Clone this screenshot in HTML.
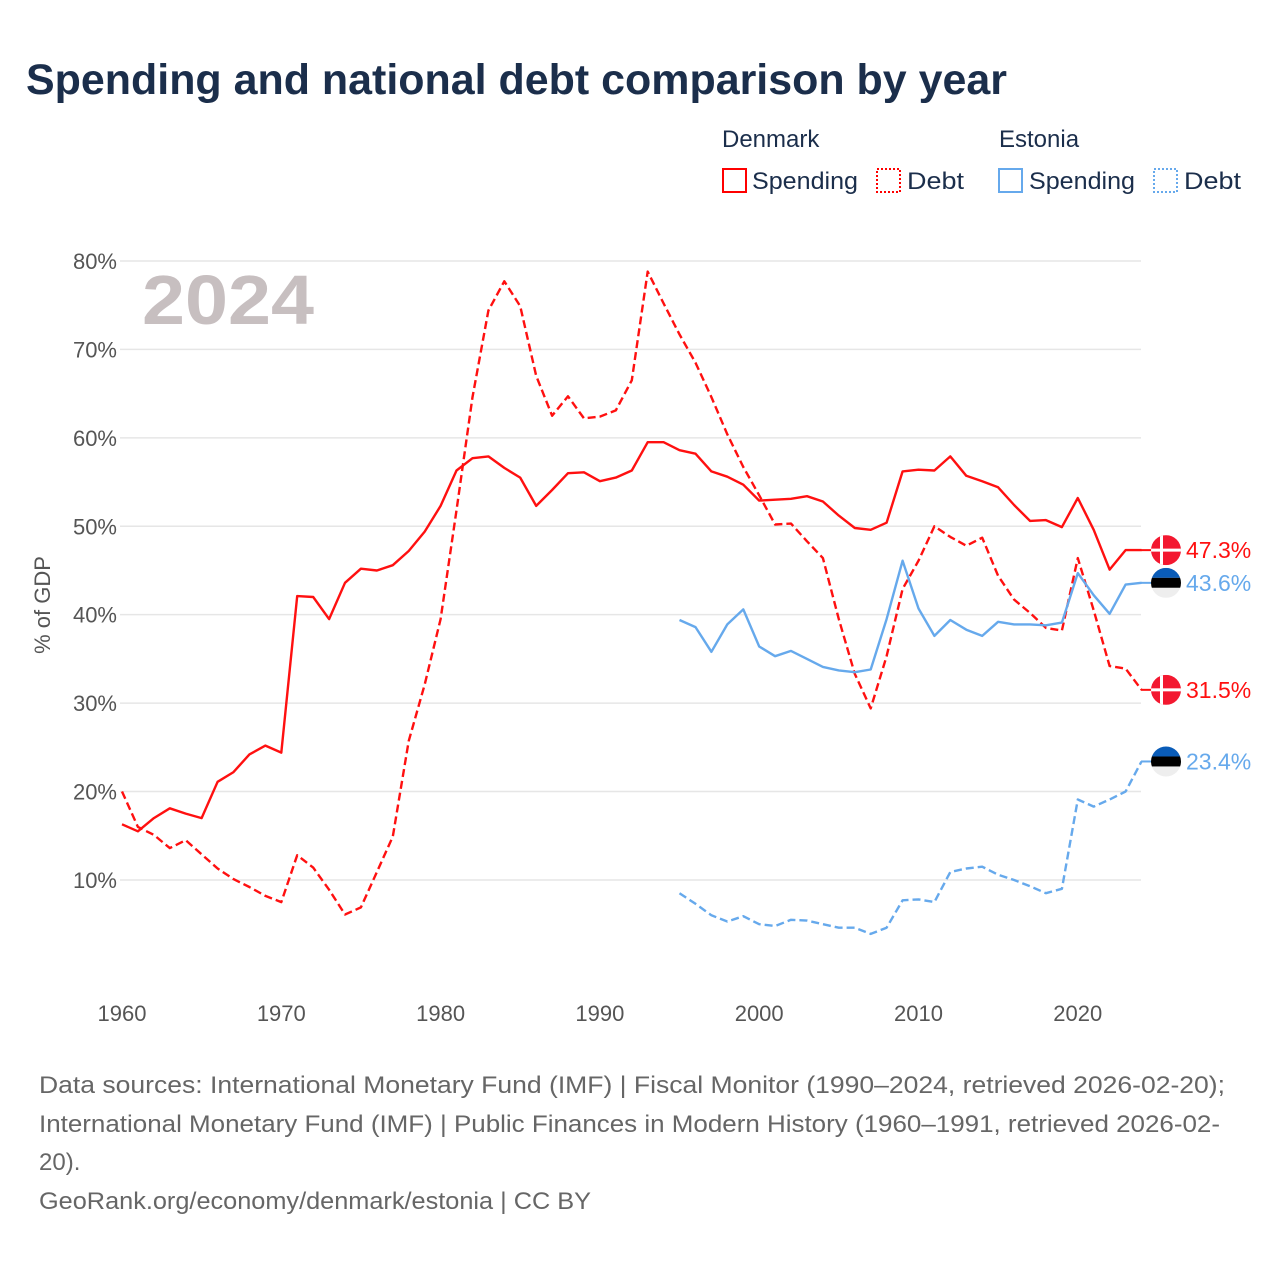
<!DOCTYPE html>
<html><head><meta charset="utf-8">
<style>
html,body{margin:0;padding:0;background:#fff;}
body{width:1280px;height:1280px;overflow:hidden;font-family:"Liberation Sans",sans-serif;}
svg text{font-family:"Liberation Sans",sans-serif;}
</style></head>
<body>
<svg id="chart" width="1280" height="1280" viewBox="0 0 1280 1280" xmlns="http://www.w3.org/2000/svg">
<text x="26" y="94" font-size="43" font-weight="bold" fill="#1b2e4b" textLength="981" lengthAdjust="spacingAndGlyphs">Spending and national debt comparison by year</text>
<g font-size="24" fill="#1b2e4b">
<text x="722" y="147">Denmark</text>
<text x="999" y="147">Estonia</text>
<g><rect x="723" y="169" width="23" height="23" fill="none" stroke="#f00" stroke-width="2"/><text x="752" y="189" textLength="106" lengthAdjust="spacingAndGlyphs">Spending</text></g>
<g><rect x="877" y="169" width="23" height="23" fill="none" stroke="#f00" stroke-width="2" stroke-dasharray="2,2"/><text x="907" y="189" textLength="57" lengthAdjust="spacingAndGlyphs">Debt</text></g>
<g><rect x="999" y="169" width="23" height="23" fill="none" stroke="#66a9ec" stroke-width="2"/><text x="1029" y="189" textLength="106" lengthAdjust="spacingAndGlyphs">Spending</text></g>
<g><rect x="1154" y="169" width="23" height="23" fill="none" stroke="#66a9ec" stroke-width="2" stroke-dasharray="2,2"/><text x="1184" y="189" textLength="57" lengthAdjust="spacingAndGlyphs">Debt</text></g>
</g>
<text x="142" y="324" font-size="70" font-weight="bold" fill="#c7bfc0" textLength="172" lengthAdjust="spacingAndGlyphs">2024</text>
<g id="grid"></g>
<g id="axes"></g>
<g id="series"></g>
<g id="ends"></g>
<text transform="translate(50,605) rotate(-90)" text-anchor="middle" font-size="22" fill="#555">% of GDP</text>
<g font-size="24" fill="#666">
<text x="39" y="1093" textLength="1186" lengthAdjust="spacingAndGlyphs">Data sources: International Monetary Fund (IMF) | Fiscal Monitor (1990–2024, retrieved 2026-02-20);</text>
<text x="39" y="1132" textLength="1181" lengthAdjust="spacingAndGlyphs">International Monetary Fund (IMF) | Public Finances in Modern History (1960–1991, retrieved 2026-02-</text>
<text x="39" y="1170">20).</text>
<text x="39" y="1209" textLength="552" lengthAdjust="spacingAndGlyphs">GeoRank.org/economy/denmark/estonia | CC BY</text>
</g>
</svg>
<script>
const yTicks = [10,20,30,40,50,60,70,80];
const xTicks = [1960,1970,1980,1990,2000,2010,2020];
const dkYears0 = 1960;
const dkSpending = [16.3,15.5,17,18.1,17.5,17,21.1,22.2,24.2,25.2,24.4,42.1,42,39.5,43.6,45.2,45,45.6,47.2,49.4,52.3,56.3,57.7,57.9,56.6,55.5,52.3,54.1,56,56.1,55.1,55.5,56.3,59.5,59.5,58.6,58.2,56.2,55.6,54.7,52.9,53,53.1,53.4,52.8,51.2,49.8,49.6,50.4,56.2,56.4,56.3,57.9,55.7,55.1,54.4,52.4,50.6,50.7,49.9,53.2,49.6,45.1,47.3,47.3];
const dkDebt = [20,16,15.1,13.6,14.5,12.9,11.3,10.1,9.2,8.2,7.5,12.8,11.4,8.9,6.1,6.9,10.9,14.9,25.7,32.1,39.5,51.8,64.6,74.4,77.7,74.9,67,62.5,64.7,62.2,62.4,63.1,66.5,78.8,75.2,71.7,68.5,64.6,60.4,56.7,53.5,50.2,50.3,48.3,46.4,39.5,33.3,29.4,35.3,42.9,46.1,50,48.8,47.8,48.7,44.4,41.7,40.2,38.5,38.2,46.4,40.5,34.2,33.9,31.5];
const eeYears0 = 1995;
const eeSpending = [39.4,38.6,35.8,38.9,40.6,36.4,35.3,35.9,35,34.1,33.7,33.5,33.8,39.5,46.1,40.7,37.6,39.4,38.3,37.6,39.2,38.9,38.9,38.8,39.1,44.7,42.2,40.1,43.4,43.6];
const eeDebt = [8.5,7.3,6,5.3,5.9,5,4.8,5.5,5.4,5,4.6,4.6,3.9,4.6,7.7,7.8,7.5,10.9,11.3,11.5,10.6,10,9.3,8.5,9,19.1,18.3,19.1,20,23.4];

const NS='http://www.w3.org/2000/svg';
const xS = yr => 122 + (yr-1960)*(1141.5-122)/64;
const yS = v => 968.4 - v*8.843;
function mk(tag, attrs, parent){const e=document.createElementNS(NS,tag);for(const k in attrs)e.setAttribute(k,attrs[k]);parent.appendChild(e);return e;}
const grid=document.getElementById('grid'), axes=document.getElementById('axes'), series=document.getElementById('series'), ends=document.getElementById('ends');
yTicks.forEach(t=>{
  const l=mk('line',{x1:120,x2:1141,y1:yS(t),y2:yS(t),stroke:'#e6e6e6','stroke-width':1.5},grid);
  
  
  const tx=mk('text',{x:117,y:yS(t)+8,'text-anchor':'end','font-size':22,fill:'#555'},axes);
  tx.textContent=t+'%';
  
  
});
xTicks.forEach(t=>{
  const tx=mk('text',{x:xS(t),y:1021,'text-anchor':'middle','font-size':22,fill:'#555'},axes);
  tx.textContent=t;
  
  
});
function line(vals,y0,color,dash,name){
  const d=vals.map((v,i)=>(i?'L':'M')+xS(y0+i).toFixed(1)+','+yS(v).toFixed(1)).join('');
  const p=mk('path',{d:d,fill:'none',stroke:color,'stroke-width':2.4,'stroke-linejoin':'round'},series);
  if(dash)p.setAttribute('stroke-dasharray','8,4');
  
  
}
line(dkDebt,dkYears0,'#ff1010',true,'denmark-debt-line');
line(eeDebt,eeYears0,'#66a9ec',true,'estonia-debt-line');
line(eeSpending,eeYears0,'#66a9ec',false,'estonia-spending-line');
line(dkSpending,dkYears0,'#ff1010',false,'denmark-spending-line');
function flag(country,v,color,name){
  const cx=1166, cy=yS(v);
  const g=mk('g',{},ends);
  
  
  mk('line',{x1:1141,x2:1152,y1:cy,y2:cy,stroke:color,'stroke-width':2},g);
  const id='c'+Math.round(cy);
  const cp=mk('clipPath',{id:id},g); mk('circle',{cx:cx,cy:cy,r:15},cp);
  const f=mk('g',{'clip-path':'url(#'+id+')'},g);
  if(country==='dk'){
    mk('rect',{x:cx-15,y:cy-15,width:30,height:30,fill:'#f31830'},f);
    mk('rect',{x:cx-15,y:cy-1.5,width:30,height:3,fill:'#fff'},f);
    mk('rect',{x:cx-6,y:cy-15,width:3,height:30,fill:'#fff'},f);
  } else {
    mk('rect',{x:cx-15,y:cy-15,width:30,height:10,fill:'#0a5cb8'},f);
    mk('rect',{x:cx-15,y:cy-5,width:30,height:10,fill:'#000'},f);
    mk('rect',{x:cx-15,y:cy+5,width:30,height:10,fill:'#eee'},f);
  }
  const t=mk('text',{x:1186,y:cy+8,'font-size':23,fill:color},g);
  t.textContent=v.toFixed(1)+'%';
}
flag('dk',dkSpending[dkSpending.length-1],'#ff1010','end-label-denmark-spending');
flag('ee',eeSpending[eeSpending.length-1],'#66a9ec','end-label-estonia-spending');
flag('dk',dkDebt[dkDebt.length-1],'#ff1010','end-label-denmark-debt');
flag('ee',eeDebt[eeDebt.length-1],'#66a9ec','end-label-estonia-debt');
</script>
</body></html>
